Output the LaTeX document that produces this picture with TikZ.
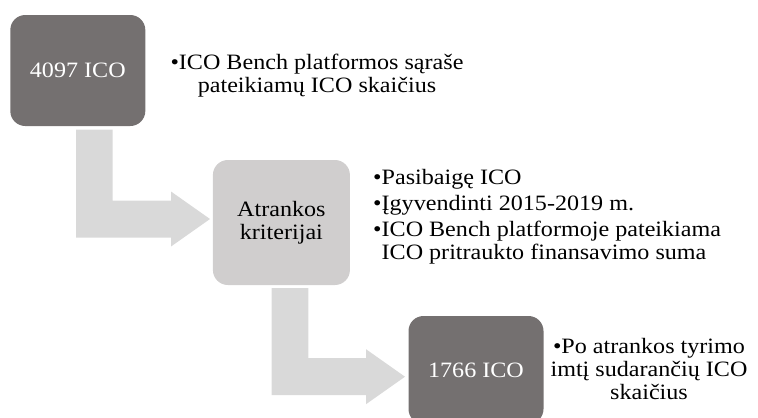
\documentclass[tikz,border=0pt]{standalone}
\usepackage{fontspec}
\setmainfont{Liberation Serif}[FakeStretch=1.1]
\usepackage{xcolor}
\usepackage{tikz}
\usetikzlibrary{calc}
\definecolor{boxdark}{HTML}{747070}
\definecolor{boxlight}{HTML}{D0CECE}
\definecolor{flowgray}{HTML}{D9D9D9}
\tikzset{
  bx/.style={rounded corners=15bp,inner sep=0pt,minimum width=135bp,font=\fontsize{22}{23}\selectfont},
  dk/.style={bx,fill=boxdark,text=white},
  lt/.style={bx,fill=boxlight,text=black},
  nt/.style={inner sep=0pt,text=black,font=\fontsize{22}{23}\selectfont},
  flow/.style={fill=flowgray}
}
\newcommand{\flowarrow}[2]{\fill[flow] let \p1=(#1), \p2=(#2) in
  (\x1,\y1) -- (\x1+36.6bp,\y1) -- (\x1+36.6bp,\y2+18.5bp) -- (\x2-39bp,\y2+18.5bp) -- (\x2-39bp,\y2+27.5bp)
  -- (\x2,\y2) -- (\x2-39bp,\y2-27.5bp) -- (\x2-39bp,\y2-18.5bp) -- (\x1,\y2-18.5bp) -- cycle;}

\begin{document}
\begin{tikzpicture}[x=1bp,y=-1bp]
\useasboundingbox (0,0) rectangle (758,417); \clip (0,0) rectangle (758,417);
\node[dk,minimum height=111bp] (ico4097) at (77.8,70.5) {4097 ICO};
\node[lt,minimum width=137bp,minimum height=125bp,align=center] (crit) at (281.4,222.5) {Atrankos\\kriterijai};
\node[dk,minimum height=108bp] (ico1766) at (476,370) {1766 ICO};
\node[nt,align=center,anchor=north] (note4097) at (317,54.3) {•ICO Bench platformos sąraše\\pateikiamų ICO skaičius};
\node[nt,align=left,anchor=north west] (notecrit) at (373,169.3) {•Pasibaigę ICO\\[3bp]•Įgyvendinti 2015-2019 m.\\[3bp]•ICO Bench platformoje pateikiama\\\phantom{•}ICO pritraukto finansavimo suma};
\node[nt,align=center,anchor=north] (note1766) at (649,338) {•Po atrankos tyrimo\\imtį sudarančių ICO\\skaičius};
\flowarrow{[xshift=66bp,yshift=-3.3bp]ico4097.south west}{[xshift=-2.7bp,yshift=3.5bp]crit.west}
\flowarrow{[xshift=59bp,yshift=-3bp]crit.south west}{[xshift=-3.3bp,yshift=-6.7bp]ico1766.west}
\end{tikzpicture}
\end{document}
